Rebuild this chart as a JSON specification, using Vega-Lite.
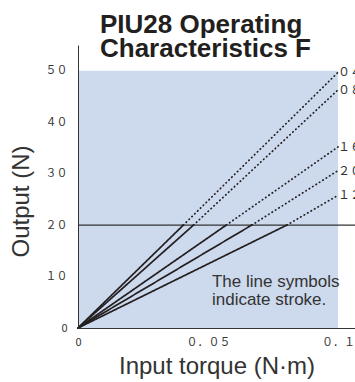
{
  "$schema": "https://vega.github.io/schema/vega-lite/v6.json",
  "width": 277,
  "height": 283,
  "autosize": {"type": "none"},
  "padding": {"left": 78, "top": 45, "right": 0, "bottom": 54},
  "background": "white",
  "config": {"view": {"stroke": null}},
  "title": {
    "text": ["PIU28 Operating", "Characteristics F"],
    "anchor": "start",
    "frame": "group",
    "dx": 22,
    "font": "Liberation Sans",
    "fontSize": 26,
    "fontWeight": "bold",
    "color": "#231f20",
    "lineHeight": 24,
    "offset": -17
  },
  "datasets": {
    "lines": [
      {"s": "04", "p": "solid", "x": 0, "y": 0},
      {"s": "04", "p": "solid", "x": 0.0405, "y": 20},
      {"s": "04", "p": "dot", "x": 0.0405, "y": 20},
      {"s": "04", "p": "dot", "x": 0.1, "y": 49.7},
      {"s": "08", "p": "solid", "x": 0, "y": 0},
      {"s": "08", "p": "solid", "x": 0.0444, "y": 20},
      {"s": "08", "p": "dot", "x": 0.0444, "y": 20},
      {"s": "08", "p": "dot", "x": 0.1, "y": 46.3},
      {"s": "16", "p": "solid", "x": 0, "y": 0},
      {"s": "16", "p": "solid", "x": 0.057, "y": 20},
      {"s": "16", "p": "dot", "x": 0.057, "y": 20},
      {"s": "16", "p": "dot", "x": 0.1, "y": 35.2},
      {"s": "20", "p": "solid", "x": 0, "y": 0},
      {"s": "20", "p": "solid", "x": 0.0668, "y": 20},
      {"s": "20", "p": "dot", "x": 0.0668, "y": 20},
      {"s": "20", "p": "dot", "x": 0.1, "y": 30.6},
      {"s": "12", "p": "solid", "x": 0, "y": 0},
      {"s": "12", "p": "solid", "x": 0.0803, "y": 20},
      {"s": "12", "p": "dot", "x": 0.0803, "y": 20},
      {"s": "12", "p": "dot", "x": 0.1, "y": 25.8}
    ],
    "ends": [
      {"label": "０４", "x": 0.1, "y": 49.7},
      {"label": "０８", "x": 0.1, "y": 46.3},
      {"label": "１６", "x": 0.1, "y": 35.2},
      {"label": "２０", "x": 0.1, "y": 30.6},
      {"label": "１２", "x": 0.1, "y": 25.8}
    ]
  },
  "encoding": {
    "x": {
      "field": "x", "type": "quantitative",
      "scale": {"domain": [0, 0.1065], "nice": false, "zero": false},
      "axis": {
        "title": "Input torque (N·m)",
        "zindex": 2,
        "ticks": false,
        "values": [0, 0.05, 0.1],
        "format": "~g",
        "labelExpr": "datum.value==0 ? '0' : replace(replace(replace(replace(datum.label,regexp('0','g'),'０'),'.','．'),'5','５'),'1','１')",
        "grid": false,
        "domainColor": "#333333",
        "labelFont": "Noto Sans CJK JP",
        "labelFontSize": 11,
        "labelColor": "#333333",
        "labelPadding": 8,
        "labelFlush": false,
        "labelOverlap": false,
        "titleFont": "Liberation Sans",
        "titleFontSize": 24,
        "titleFontWeight": "normal",
        "titleColor": "#333333",
        "titleBaseline": "alphabetic",
        "titleY": 45
      }
    },
    "y": {
      "field": "y", "type": "quantitative",
      "scale": {"domain": [0, 55], "nice": false, "zero": false},
      "axis": {
        "title": "Output (N)",
        "zindex": 2,
        "ticks": false,
        "values": [0, 10, 20, 30, 40, 50],
        "labelExpr": "datum.value==0 ? '0' : replace(replace(replace(replace(replace(replace(datum.label,regexp('0','g'),'０'),regexp('1','g'),'１'),regexp('2','g'),'２'),regexp('3','g'),'３'),regexp('4','g'),'４'),regexp('5','g'),'５')",
        "grid": false,
        "domainColor": "#333333",
        "labelFont": "Noto Sans CJK JP",
        "labelFontSize": 11,
        "labelColor": "#333333",
        "labelPadding": 11,
        "labelFlush": false,
        "labelOverlap": false,
        "titleFont": "Liberation Sans",
        "titleFontSize": 24,
        "titleFontWeight": "normal",
        "titleColor": "#333333",
        "titleBaseline": "alphabetic",
        "titleX": -50,
        "titleY": 156
      }
    }
  },
  "layer": [
    {
      "data": {"values": [{"x": 0, "x2": 0.1, "y": 0, "y2": 50}]},
      "mark": {"type": "rect", "fill": "#cdd9ec"},
      "encoding": {
        "x2": {"field": "x2"},
        "y2": {"field": "y2"}
      }
    },
    {
      "data": {"values": [{"x": 0.05}, {"x": 0.1}]},
      "mark": {"type": "rule", "color": "#222222", "strokeWidth": 1.3},
      "encoding": {
        "y": {"datum": 0, "type": "quantitative"},
        "y2": {"datum": 2.35}
      }
    },
    {
      "data": {"values": [{"x": 0.01}, {"x": 0.02}, {"x": 0.03}, {"x": 0.04}, {"x": 0.06}, {"x": 0.07}, {"x": 0.08}, {"x": 0.09}]},
      "mark": {"type": "rule", "color": "#222222", "strokeWidth": 1.3},
      "encoding": {
        "y": {"datum": 0, "type": "quantitative"},
        "y2": {"datum": 1.2}
      }
    },
    {
      "data": {"values": [{"y": 10}, {"y": 20}, {"y": 30}, {"y": 40}, {"y": 50}]},
      "mark": {"type": "rule", "color": "#222222", "strokeWidth": 1.3},
      "encoding": {
        "x": {"datum": 0, "type": "quantitative"},
        "x2": {"datum": 0.0046}
      }
    },
    {
      "data": {"values": [{"x": 0, "x2": 0.1065, "y": 20}]},
      "mark": {"type": "rule", "color": "#333333", "strokeWidth": 1.2},
      "encoding": {
        "x2": {"field": "x2"}
      }
    },
    {
      "data": {"name": "lines"},
      "mark": {"type": "line", "color": "#231f20", "strokeWidth": 1.7, "strokeCap": "round"},
      "encoding": {
        "detail": [{"field": "s"}, {"field": "p"}],
        "strokeDash": {
          "field": "p", "type": "nominal",
          "scale": {"domain": ["solid", "dot"], "range": [[1, 0], [0.5, 3.5]]},
          "legend": null
        }
      }
    },
    {
      "data": {"name": "ends"},
      "mark": {"type": "text", "align": "left", "baseline": "middle", "dx": 0, "font": "Noto Sans CJK JP", "fontSize": 12, "color": "#333333"},
      "encoding": {
        "text": {"field": "label"}
      }
    },
    {
      "data": {"values": [{"x": 0.0515, "y": 8}]},
      "mark": {"type": "text", "align": "left", "baseline": "alphabetic", "font": "Liberation Sans", "fontSize": 17, "lineHeight": 18, "color": "#333333", "text": ["The line symbols", "indicate stroke."]}
    }
  ]
}
